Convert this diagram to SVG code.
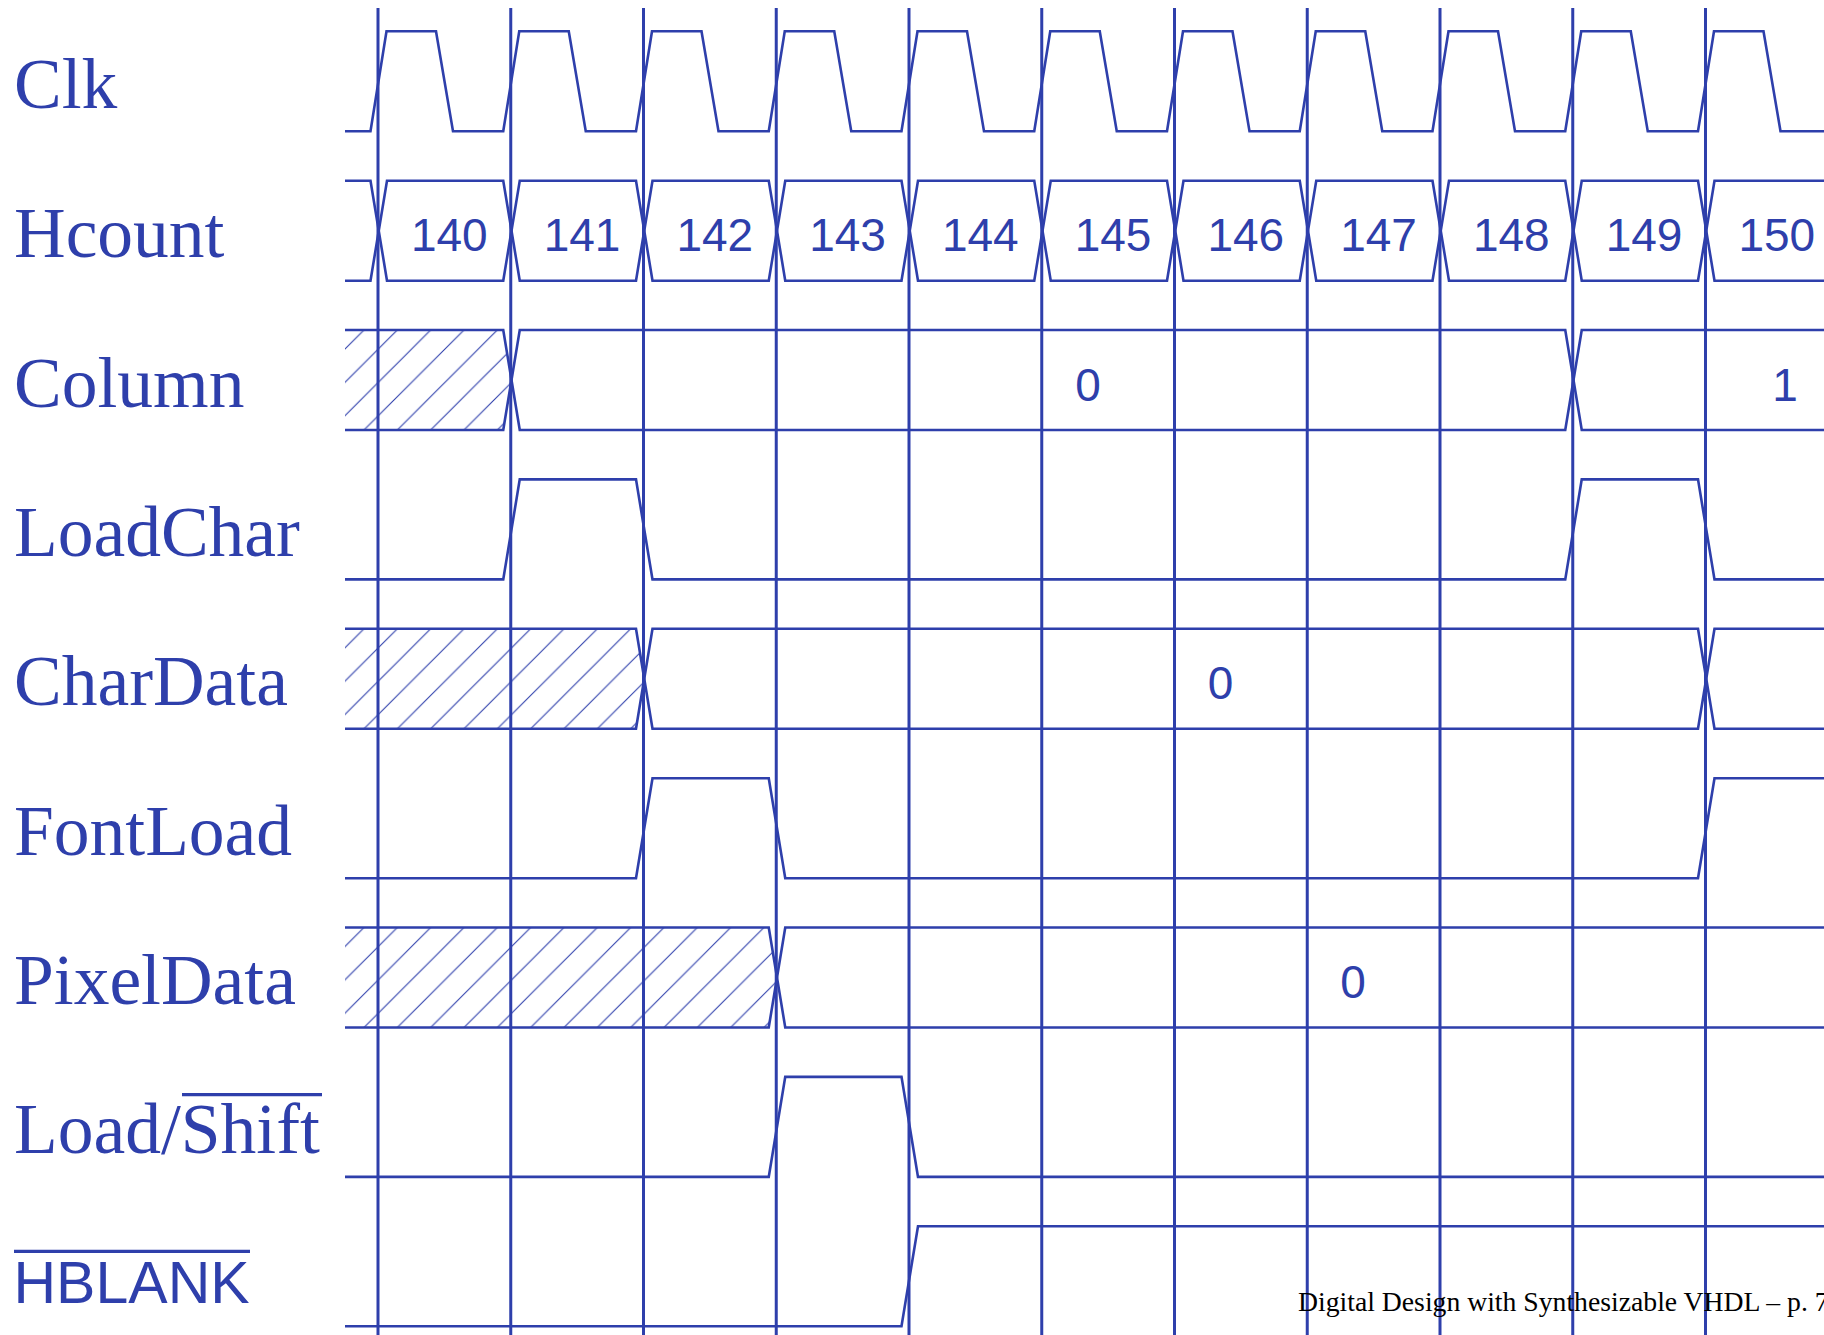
<svg xmlns="http://www.w3.org/2000/svg" width="1824" height="1335" viewBox="0 0 1824 1335">
<style>
.sig{fill:none;stroke:#2e3fab;stroke-width:2.6;stroke-linejoin:miter}
.grid{stroke:#2e3fab;stroke-width:3}
.lbl{font-family:"Liberation Serif","Times New Roman",serif;font-size:71.5px;fill:#2e3fab}
.val{font-family:"Liberation Sans",Arial,sans-serif;font-size:46px;fill:#2e3fab;text-anchor:middle}
.hb{font-family:"Liberation Sans",Arial,sans-serif;font-size:59px;fill:#2e3fab}
.ovl{stroke:#2e3fab;stroke-width:3.2}
.foot{font-family:"Liberation Serif","Times New Roman",serif;font-size:27.7px;fill:#000}
.hl{stroke:#2e3fab;stroke-width:1.1;fill:none}
</style>
<defs>
<pattern id="hatchCol" patternUnits="userSpaceOnUse" x="27.33" y="0" width="33.333" height="33.333">
<path class="hl" d="M-2,2 L2,-2 M0,33.333 L33.333,0 M31.333,35.333 L35.333,31.333"/>
</pattern>
<pattern id="hatchChar" patternUnits="userSpaceOnUse" x="26.13" y="0" width="33.333" height="33.333">
<path class="hl" d="M-2,2 L2,-2 M0,33.333 L33.333,0 M31.333,35.333 L35.333,31.333"/>
</pattern>
<pattern id="hatchPix" patternUnits="userSpaceOnUse" x="24.83" y="0" width="33.333" height="33.333">
<path class="hl" d="M-2,2 L2,-2 M0,33.333 L33.333,0 M31.333,35.333 L35.333,31.333"/>
</pattern>
</defs>
<rect width="1824" height="1335" fill="#fff"/>

<g id="Clk">
<text class="lbl" x="14" y="107.8">Clk</text>
<path class="sig" d="M345,131.3 H370.5 L386.5,31.3 H436 L453,131.3 H503.25 L519.25,31.3 H568.75 L585.75,131.3 H636 L652,31.3 H701.5 L718.5,131.3 H768.75 L784.75,31.3 H834.25 L851.25,131.3 H901.5 L917.5,31.3 H967 L984,131.3 H1034.25 L1050.25,31.3 H1099.75 L1116.75,131.3 H1167 L1183,31.3 H1232.5 L1249.5,131.3 H1299.75 L1315.75,31.3 H1365.25 L1382.25,131.3 H1432.5 L1448.5,31.3 H1498 L1515,131.3 H1565.25 L1581.25,31.3 H1630.75 L1647.75,131.3 H1698 L1714,31.3 H1763.5 L1780.5,131.3 H1824"/>
</g>

<g id="Hcount">
<text class="lbl" x="14" y="257.2">Hcount</text>
<path class="sig" d="M345,180.7 H370.5 L387,280.7 H503.25 L519.75,180.7 H636 L652.5,280.7 H768.75 L785.25,180.7 H901.5 L918,280.7 H1034.25 L1050.75,180.7 H1167 L1183.5,280.7 H1299.75 L1316.25,180.7 H1432.5 L1449,280.7 H1565.25 L1581.75,180.7 H1698 L1714.5,280.7 H1824"/>
<path class="sig" d="M345,280.7 H370.5 L387,180.7 H503.25 L519.75,280.7 H636 L652.5,180.7 H768.75 L785.25,280.7 H901.5 L918,180.7 H1034.25 L1050.75,280.7 H1167 L1183.5,180.7 H1299.75 L1316.25,280.7 H1432.5 L1449,180.7 H1565.25 L1581.75,280.7 H1698 L1714.5,180.7 H1824"/>
<text class="val" x="449.3" y="251">140</text>
<text class="val" x="582.05" y="251">141</text>
<text class="val" x="714.8" y="251">142</text>
<text class="val" x="847.55" y="251">143</text>
<text class="val" x="980.3" y="251">144</text>
<text class="val" x="1113.05" y="251">145</text>
<text class="val" x="1245.8" y="251">146</text>
<text class="val" x="1378.55" y="251">147</text>
<text class="val" x="1511.3" y="251">148</text>
<text class="val" x="1644.05" y="251">149</text>
<text class="val" x="1776.8" y="251">150</text>
</g>

<g id="Column">
<text class="lbl" x="14" y="406.5">Column</text>
<path d="M345,330 H503.25 L511.5,380 L503.25,430 H345 Z" fill="url(#hatchCol)"/>
<path class="sig" d="M345,330 H503.25 L519.75,430 H1565.25 L1581.75,330 H1824"/>
<path class="sig" d="M345,430 H503.25 L519.75,330 H1565.25 L1581.75,430 H1824"/>
<text class="val" x="1088" y="400.5">0</text>
<text class="val" x="1785" y="400.5">1</text>
</g>

<g id="LoadChar">
<text class="lbl" x="14" y="555.9">LoadChar</text>
<path class="sig" d="M345,579.4 H503.25 L519.75,479.4 H636 L652.5,579.4 H1565.25 L1581.75,479.4 H1698 L1714.5,579.4 H1824"/>
</g>

<g id="CharData">
<text class="lbl" x="14" y="705.3">CharData</text>
<path d="M345,628.8 H636 L644.25,678.8 L636,728.8 H345 Z" fill="url(#hatchChar)"/>
<path class="sig" d="M345,628.8 H636 L652.5,728.8 H1698 L1714.5,628.8 H1824"/>
<path class="sig" d="M345,728.8 H636 L652.5,628.8 H1698 L1714.5,728.8 H1824"/>
<text class="val" x="1220.5" y="698.8">0</text>
</g>

<g id="FontLoad">
<text class="lbl" x="14" y="854.7">FontLoad</text>
<path class="sig" d="M345,878.2 H636 L652.5,778.2 H768.75 L785.25,878.2 H1698 L1714.5,778.2 H1824"/>
</g>

<g id="PixelData">
<text class="lbl" x="14" y="1004">PixelData</text>
<path d="M345,927.5 H768.75 L777,977.5 L768.75,1027.5 H345 Z" fill="url(#hatchPix)"/>
<path class="sig" d="M345,927.5 H768.75 L785.25,1027.5 H1824"/>
<path class="sig" d="M345,1027.5 H768.75 L785.25,927.5 H1824"/>
<text class="val" x="1353" y="997.5">0</text>
</g>

<g id="LoadShift">
<text class="lbl" x="14" y="1153.4">Load/Shift</text>
<line class="ovl" x1="182" y1="1094.7" x2="322" y2="1094.7"/>
<path class="sig" d="M345,1176.9 H768.75 L785.25,1076.9 H901.5 L918,1176.9 H1824"/>
</g>

<g id="HBLANK">
<text class="hb" x="13.5" y="1302.5">HBLANK</text>
<line class="ovl" x1="14" y1="1251.3" x2="250" y2="1251.3"/>
<path class="sig" d="M345,1326.3 H901.5 L918,1226.3 H1824"/>
</g>

<g id="gridlines">
<line class="grid" x1="378" y1="8" x2="378" y2="1335"/>
<line class="grid" x1="510.75" y1="8" x2="510.75" y2="1335"/>
<line class="grid" x1="643.5" y1="8" x2="643.5" y2="1335"/>
<line class="grid" x1="776.25" y1="8" x2="776.25" y2="1335"/>
<line class="grid" x1="909" y1="8" x2="909" y2="1335"/>
<line class="grid" x1="1041.75" y1="8" x2="1041.75" y2="1335"/>
<line class="grid" x1="1174.5" y1="8" x2="1174.5" y2="1335"/>
<line class="grid" x1="1307.25" y1="8" x2="1307.25" y2="1335"/>
<line class="grid" x1="1440" y1="8" x2="1440" y2="1335"/>
<line class="grid" x1="1572.75" y1="8" x2="1572.75" y2="1335"/>
<line class="grid" x1="1705.5" y1="8" x2="1705.5" y2="1335"/>
</g>

<text class="foot" x="1298" y="1311">Digital Design with Synthesizable VHDL – p. 7</text>
</svg>
